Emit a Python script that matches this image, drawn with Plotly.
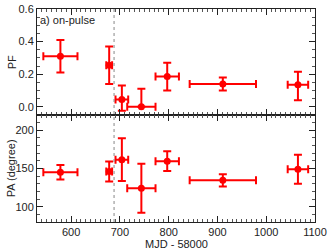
import plotly.graph_objects as go
from plotly.subplots import make_subplots

mjd = [578, 678, 704, 744, 797, 911, 1065]
mjd_err = [35, 6, 13, 29, 24, 68, 21]
pf = [0.31, 0.255, 0.045, 0.0, 0.185, 0.14, 0.135]
pf_err_up = [0.10, 0.115, 0.085, 0.11, 0.085, 0.04, 0.08]
pf_err_down = [0.10, 0.115, 0.07, 0.0, 0.085, 0.04, 0.095]
pa = [145, 146, 161.5, 124, 159.5, 134.5, 149]
pa_err = [9.5, 13, 28, 32, 13, 8, 19]
vline_mjd = 688

RED = "#ff0000"
fig = make_subplots(rows=2, cols=1, shared_xaxes=True, vertical_spacing=0)

ebx = dict(type="data", array=mjd_err, color=RED, thickness=2, width=4)
fig.add_trace(go.Scatter(
    x=mjd, y=pf, mode="markers",
    marker=dict(color=RED, size=7),
    error_x=ebx,
    error_y=dict(type="data", symmetric=False, array=pf_err_up, arrayminus=pf_err_down,
                 color=RED, thickness=2, width=4),
    showlegend=False), row=1, col=1)
fig.add_trace(go.Scatter(
    x=mjd, y=pa, mode="markers",
    marker=dict(color=RED, size=7),
    error_x=ebx,
    error_y=dict(type="data", array=pa_err, color=RED, thickness=2, width=4),
    showlegend=False), row=2, col=1)

axcommon = dict(showline=True, linecolor="#222", linewidth=1, mirror="ticks",
                ticks="inside", ticklen=6, tickcolor="#222", showgrid=False, zeroline=False,
                automargin=False)
fig.update_xaxes(range=[530, 1100], dtick=100, tick0=0,
                 minor=dict(ticks="inside", ticklen=3, dtick=10, tickcolor="#555"), **axcommon)
fig.update_yaxes(range=[-0.05, 0.6], dtick=0.2, tick0=0, tickformat=".1f",
                 minor=dict(ticks="inside", ticklen=3, dtick=0.05, tickcolor="#555"),
                 row=1, col=1, **axcommon)
fig.update_yaxes(range=[80, 220], dtick=50, tick0=0,
                 minor=dict(ticks="inside", ticklen=3, dtick=10, tickcolor="#555"),
                 row=2, col=1, **axcommon)

fig.add_shape(type="line", x0=vline_mjd, x1=vline_mjd, xref="x", y0=0, y1=1, yref="paper",
              line=dict(color="#888", width=1, dash="dot"))
fig.add_annotation(text="a) on-pulse", xref="paper", yref="paper", x=0.005, y=0.985,
                   xanchor="left", yanchor="top", showarrow=False,
                   font=dict(size=11, color="#222"))
fig.add_annotation(text="MJD - 58000", xref="paper", yref="paper", x=0.5, y=-0.105,
                   xanchor="center", yanchor="middle", showarrow=False,
                   font=dict(size=11, color="#222"))
fig.add_annotation(text="PF", xref="paper", yref="paper", x=-0.09, y=0.75,
                   xanchor="center", yanchor="middle", showarrow=False, textangle=-90,
                   font=dict(size=11, color="#222"))
fig.add_annotation(text="PA (degree)", xref="paper", yref="paper", x=-0.095, y=0.25,
                   xanchor="center", yanchor="middle", showarrow=False, textangle=-90,
                   font=dict(size=11, color="#222"))

fig.update_layout(
    width=332, height=252,
    margin=dict(l=37, r=17, t=9, b=30),
    paper_bgcolor="white", plot_bgcolor="white",
    font=dict(family="Liberation Sans, Arial, sans-serif", size=11, color="#222"),
)
fig.update_yaxes(domain=[0.503, 1], row=1, col=1)
fig.update_yaxes(domain=[0, 0.503], row=2, col=1)

fig.write_html("out.html", config={"displayModeBar": False},
               post_script="document.body.style.margin='0px';")
